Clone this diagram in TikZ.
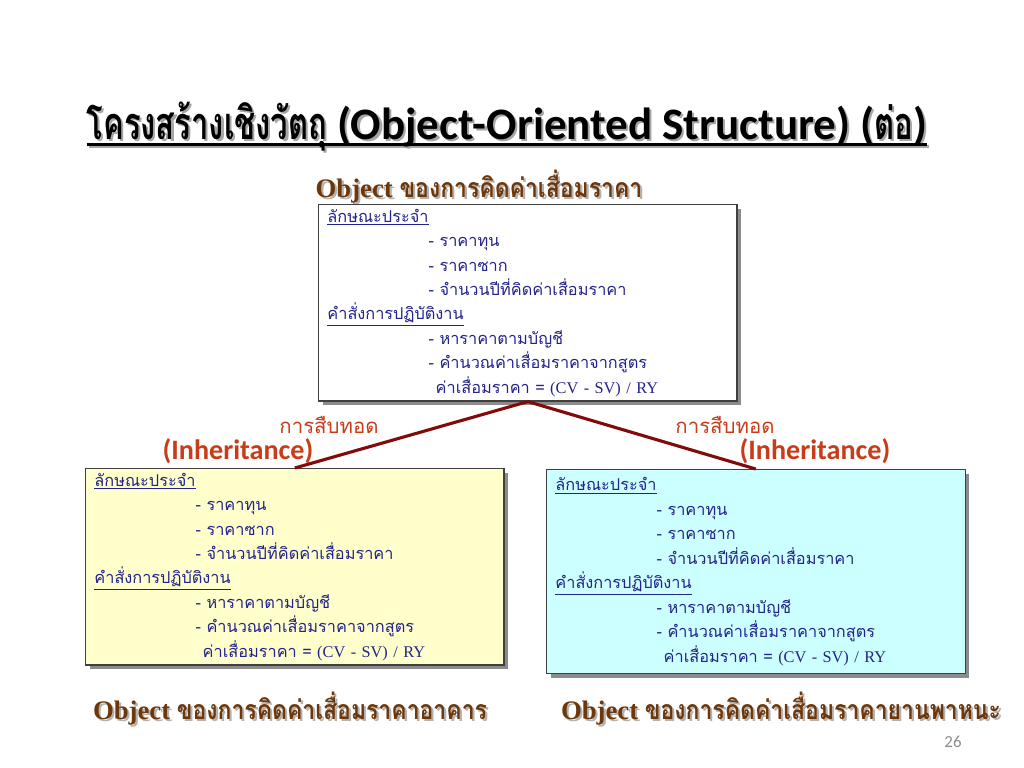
\documentclass[tikz,border=0pt]{standalone}
\usepackage{fontspec}
\setmainfont{Liberation Serif}
\newfontfamily\thai[Script=Thai]{Loma}
\newfontfamily\thaititle[Script=Thai, FakeStretch=0.69]{Loma}
\newfontfamily\thainame[Script=Thai, FakeStretch=0.86]{Loma}
\newfontfamily\calib{Carlito}
\usepackage{xcolor}
\usetikzlibrary{positioning}
\usetikzlibrary{shadows}
\definecolor{boxblue}{RGB}{35,35,140}
\definecolor{inhred}{RGB}{200,60,25}
\definecolor{linkred}{RGB}{130,10,10}
\definecolor{namebrown}{RGB}{110,55,10}
\definecolor{paleyellow}{RGB}{255,255,204}
\definecolor{palecyan}{RGB}{204,255,255}
\newlength\ulw
\newcommand{\ulbold}[1]{\settowidth{\ulw}{#1}\rlap{\rule[-4pt]{\ulw}{1.6pt}}#1}
\newcommand{\txtshadow}[2][black!35]{\leavevmode\rlap{\kern1.5pt\raisebox{-1.5pt}{\color{#1}#2}}#2}
\newcommand{\deprlines}{%
\underline{ลักษณะประจำ}\\
\hspace*{72pt}- ราคาทุน\\
\hspace*{72pt}- ราคาซาก\\
\hspace*{72pt}- จำนวนปีที่คิดค่าเสื่อมราคา\\
\underline{คำสั่งการปฏิบัติงาน}\\
\hspace*{72pt}- หาราคาตามบัญชี\\
\hspace*{72pt}- คำนวณค่าเสื่อมราคาจากสูตร\\
\hspace*{77pt}ค่าเสื่อมราคา = {\rmfamily (CV - SV) / RY}}

\begin{document}
\begin{tikzpicture}[x=0.025cm, y=-0.025cm,
	objbox/.style={draw=black!75, line width=0.8pt, rectangle, anchor=north west,
		align=left, text width=285pt, inner xsep=6.3pt, inner ysep=3pt,
		minimum width=297.6pt, text=boxblue,
		font=\thai\fontsize{11.6}{17.4}\selectfont,
		drop shadow={shadow xshift=3pt, shadow yshift=-3pt, fill=black!45, opacity=1}},
	inherit/.style={draw=linkred, line width=2.2pt},
	inhth/.style={text=inhred, font=\thai\fontsize{14.5}{17}\selectfont, inner sep=0pt},
	inhen/.style={text=inhred, font=\calib\bfseries\fontsize{20}{24}\selectfont, inner sep=0pt},
	objname/.style={text=namebrown, font=\bfseries\fontsize{19}{23}\selectfont, inner sep=0pt}]

	\path[use as bounding box, fill=white] (0,0) rectangle (1024,768);

	\node[inner sep=0pt, font=\calib\bfseries\fontsize{32}{38}\selectfont] (title) at (507,128)
		{\txtshadow{\ulbold{{\thaititle\bfseries โครงสร้างเชิงวัตถุ} (Object-Oriented Structure) ({\thaititle\bfseries ต่อ})}}};

	\node[objname] (topname) at (479,188) {\txtshadow[black!30]{Object {\thainame\bfseries ของการคิดค่าเสื่อมราคา}}};
	\node[objbox, fill=white, minimum height=137.5pt] (top) at (318,204) {\deprlines};

	\node[objbox, fill=paleyellow, minimum height=139.6pt] (left) at (85,468) {\deprlines};
	\node[objbox, fill=palecyan, minimum height=145pt] (right) at (546,469) {\deprlines};

	\node[objname] (leftname) at (290,710) {\txtshadow[black!30]{Object {\thainame\bfseries ของการคิดค่าเสื่อมราคาอาคาร}}};
	\node[objname] (rightname) at (781,710) {\txtshadow[black!30]{Object {\thainame\bfseries ของการคิดค่าเสื่อมราคายานพาหนะ}}};

	\node[inhth] (thL) at (329,425) {การสืบทอด};
	\node[inhen] (enL) at (238,451) {(Inheritance)};
	\node[inhth] (thR) at (725,425) {การสืบทอด};
	\node[inhen] (enR) at (815,451) {(Inheritance)};

	\draw[inherit] (top.south) -- (left.north);
	\draw[inherit] (top.south) -- (right.north);

	\node[text=black!45, font=\calib\fontsize{12}{14}\selectfont, inner sep=0pt] (page) at (953,742) {26};
\end{tikzpicture}
\end{document}
